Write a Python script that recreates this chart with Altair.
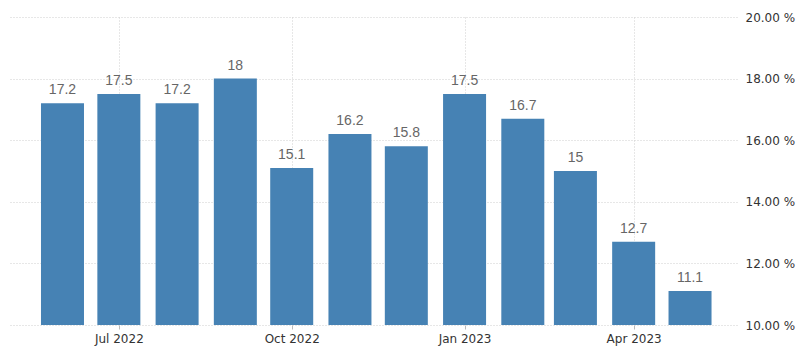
import altair as alt
import pandas as pd

months = ["2022-06-01", "2022-07-01", "2022-08-01", "2022-09-01", "2022-10-01", "2022-11-01",
          "2022-12-01", "2023-01-01", "2023-02-01", "2023-03-01", "2023-04-01", "2023-05-01"]
values = [17.2, 17.5, 17.2, 18.0, 15.1, 16.2, 15.8, 17.5, 16.7, 15.0, 12.7, 11.1]
labels = ["17.2", "17.5", "17.2", "18", "15.1", "16.2", "15.8", "17.5", "16.7", "15", "12.7", "11.1"]
y_ticks = [10, 12, 14, 16, 18, 20]

df = pd.DataFrame({"month": months, "value": values, "label": labels})

x_ticks = [alt.DateTime(year=2022, month=7, date=1, utc=True),
           alt.DateTime(year=2022, month=10, date=1, utc=True),
           alt.DateTime(year=2023, month=1, date=1, utc=True),
           alt.DateTime(year=2023, month=4, date=1, utc=True)]

x_scale = alt.Scale(type="utc", padding=0, nice=False,
                    domain=[alt.DateTime(year=2022, month=5, date=3, utc=True),
                            alt.DateTime(year=2023, month=5, date=26, utc=True)])

x = alt.X("month:T", scale=x_scale,
          axis=alt.Axis(title=None, values=x_ticks, format="%b %Y", grid=True,
                        gridColor="#cfcfcf", gridDash=[1, 2], gridWidth=1,
                        domain=False, tickColor="#bbbbbb", tickSize=4,
                        labelFont="DejaVu Sans", labelFontSize=12, labelColor="#333333",
                        labelPadding=4))

y_scale = alt.Scale(domain=[10, 20], nice=False, zero=False)

bars = alt.Chart(df).mark_bar(size=43, color="#4682b4").encode(
    x=x,
    y=alt.Y("value:Q", scale=y_scale,
            axis=alt.Axis(title=None, orient="right", values=y_ticks,
                          labelExpr="format(datum.value, '.2f') + ' %'",
                          grid=True, gridColor="#cfcfcf", gridDash=[1, 2],
                          domain=False, ticks=False, labelPadding=8,
                          labelFont="DejaVu Sans", labelFontSize=12, labelColor="#333333")),
    y2=alt.datum(10),
)

text = alt.Chart(df).mark_text(baseline="alphabetic", dy=-9, font="Liberation Sans",
                               fontSize=14, color="#666666").encode(
    x=alt.X("month:T", scale=x_scale),
    y=alt.Y("value:Q", scale=y_scale),
    text="label:N",
)

chart = alt.layer(bars, text).properties(
    width=729, height=308,
    background="white",
    autosize=alt.AutoSizeParams(type="none"),
    padding={"left": 8, "top": 17, "right": 63, "bottom": 31},
).configure_view(strokeWidth=0, stroke="transparent")

chart.save("out.html", embed_options={"renderer": "svg", "actions": False})
